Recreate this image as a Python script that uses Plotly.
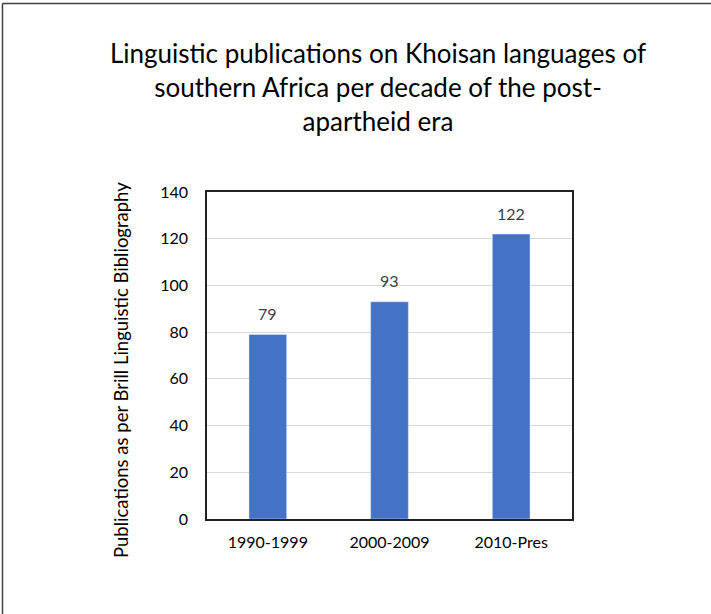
import plotly.graph_objects as go

categories = ["1990-1999", "2000-2009", "2010-Pres"]
values = [79, 93, 122]
y_ticks = [0, 20, 40, 60, 80, 100, 120, 140]
y_title = "Publications as per Brill Linguistic Bibliography"
chart_title = "Linguistic publications on Khoisan languages of<br>southern Africa per decade of the post-<br>apartheid era"

W, H = 711, 614
L, R, T, B = 207, 572, 192, 519

fig = go.Figure()
fig.add_trace(go.Bar(x=categories, y=values, marker_color="#4472C4", width=0.31))

for c, v in zip(categories, values):
    fig.add_annotation(x=c, y=v, text=str(v), showarrow=False, yshift=21,
                       font=dict(size=16, color="#404040", family="Lato"))

def px_x(p):
    return (p - L) / (R - L)

def px_y(p):
    return (B - p) / (B - T)

fig.add_annotation(xref="paper", yref="paper", x=px_x(121), y=px_y(370), text=y_title,
                   textangle=-90, showarrow=False, xanchor="center", yanchor="middle",
                   font=dict(size=18.5, color="#000000", family="Lato"))

fig.add_shape(type="line", xref="paper", yref="paper", x0=px_x(2.5), x1=px_x(711), y0=px_y(3.5), y1=px_y(3.5),
              line=dict(color="#404040", width=1.5))
fig.add_shape(type="line", xref="paper", yref="paper", x0=px_x(2.5), x1=px_x(2.5), y0=px_y(3.5), y1=px_y(614),
              line=dict(color="#404040", width=1.5))

fig.update_layout(
    width=W, height=H,
    margin=dict(l=L, r=W - R, t=T, b=H - B),
    paper_bgcolor="white", plot_bgcolor="white",
    showlegend=False,
    font=dict(family="Lato", color="#000000"),
    title=dict(text=chart_title,
               x=378 / W, xanchor="center", y=1 - 63 / H, yanchor="middle",
               font=dict(size=26, color="#000000", family="Lato")),
    xaxis=dict(showline=True, linecolor="#222222", linewidth=1.5, mirror=True,
               tickfont=dict(size=16, color="#000000"), ticks="", ticklabelstandoff=8),
    yaxis=dict(range=[0, 140], tickvals=y_ticks, showgrid=True, gridcolor="#d9d9d9",
               showline=True, linecolor="#222222", linewidth=1.5, mirror=True, ticks="",
               tickfont=dict(size=16, color="#000000"), ticklabelstandoff=14),
)

fig.write_html("out.html", config={"displayModeBar": False},
               post_script="document.body.style.margin='0';")
